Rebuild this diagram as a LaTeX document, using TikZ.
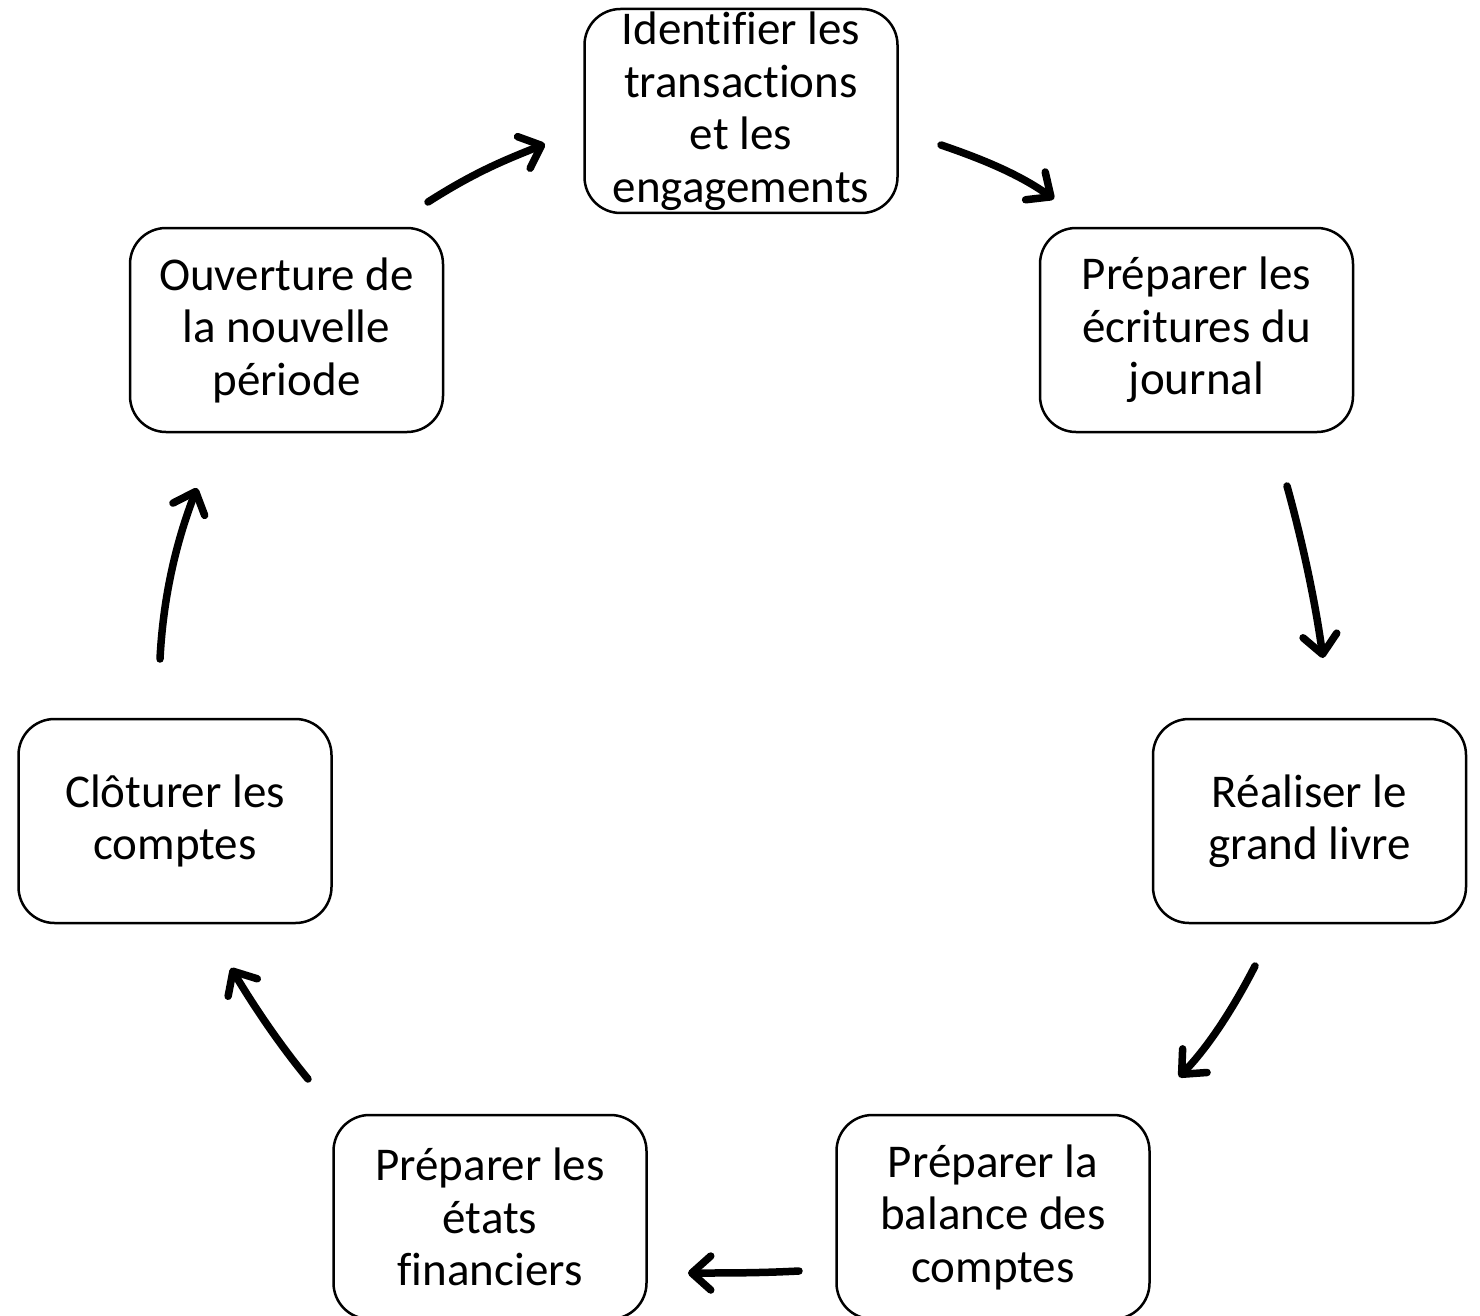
\documentclass[tikz,border=0pt]{standalone}
\usepackage{fontspec}
\setmainfont[Ligatures=NoCommon]{Carlito}
\usetikzlibrary{arrows.meta}
\begin{document}
\begin{tikzpicture}[x=1pt,y=-1pt,
  stepbox/.style={draw=black,line width=2.5pt,rounded corners=36pt,minimum width=313pt,minimum height=204pt,inner sep=0pt,align=center,font=\fontsize{47}{52.5}\selectfont},
  arr/.style={line width=7.5pt,-{Straight Barb[length=19pt,width=34pt,round]},line cap=round}]
\useasboundingbox (0,0) rectangle (1480,1316);
\node[stepbox] (n1) at (741,111) {Identifier les\\transactions\\et les\\engagements};
\node[stepbox] (n2) at (1196.5,330) {Préparer les\\écritures du\\journal};
\node[stepbox] (n3) at (1309.5,821) {Réaliser le\\grand livre};
\node[stepbox] (n4) at (993,1217) {Préparer la\\balance des\\comptes};
\node[stepbox] (n5) at (490,1217) {Préparer les\\états\\financiers};
\node[stepbox] (n6) at (175,821) {Clôturer les\\comptes};
\node[stepbox] (n7) at (286.5,330) {Ouverture de\\la nouvelle\\période};
\coordinate (a1s) at (428,202); \coordinate (a1e) at (545,144);
\coordinate (a2s) at (941,145); \coordinate (a2e) at (1054,199);
\coordinate (a3s) at (1287,486); \coordinate (a3e) at (1323,658);
\coordinate (a4s) at (1255,966); \coordinate (a4e) at (1179,1077);
\coordinate (a5s) at (799,1271); \coordinate (a5e) at (688,1273);
\coordinate (a6s) at (308,1079); \coordinate (a6e) at (231,968);
\coordinate (a7s) at (160,659); \coordinate (a7e) at (197,488);
\draw[arr] (a1s) .. controls (475,172) and (505,160) .. (a1e);
\draw[arr] (a2s) .. controls (985,160) and (1020,175) .. (a2e);
\draw[arr] (a3s) .. controls (1302,540) and (1315,600) .. (a3e);
\draw[arr] (a4s) .. controls (1235,1005) and (1210,1045) .. (a4e);
\draw[arr] (a5s) .. controls (760,1273) and (730,1273) .. (a5e);
\draw[arr] (a6s) .. controls (280,1045) and (255,1008) .. (a6e);
\draw[arr] (a7s) .. controls (163,600) and (175,545) .. (a7e);
\end{tikzpicture}
\end{document}
